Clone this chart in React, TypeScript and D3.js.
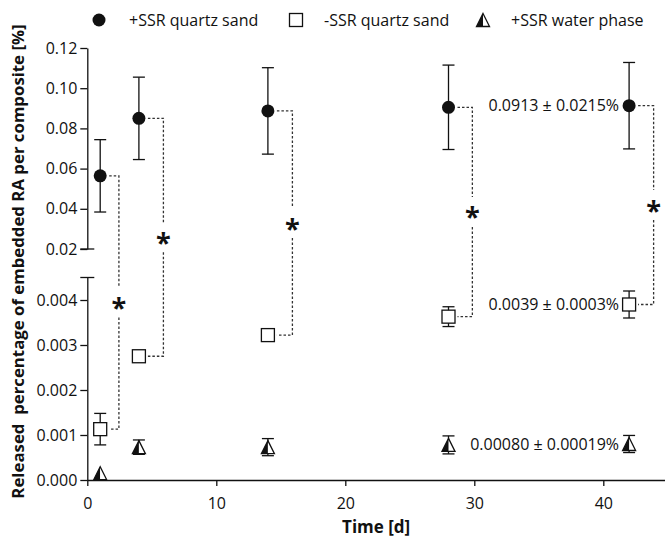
import React, { useEffect, useRef } from 'react';
import * as d3 from 'd3';

// sampling days
const days = [1, 4, 14, 28, 42];

// +SSR quartz sand (upper axis segment)
const sandSSR = [0.0564, 0.085, 0.0887, 0.0905, 0.0913];
const sandSSRErr = [0.018, 0.0205, 0.0215, 0.021, 0.0215];

// -SSR quartz sand (lower axis segment)
const sandNoSSR = [0.00113, 0.00275, 0.00322, 0.00363, 0.0039];
const sandNoSSRErr = [0.00035, 0.0001, 0.0001, 0.00022, 0.0003];

// +SSR water phase (lower axis segment)
const waterSSR = [0.00015, 0.00073, 0.00073, 0.00078, 0.0008];
const waterSSRErr = [0, 0.00016, 0.00019, 0.0002, 0.00019];

// where the significance brackets stand, in days
const bracketDays = [2.45, 5.9, 15.9, 29.85, 43.9];

const legendLabels = ['+SSR quartz sand', '-SSR quartz sand', '+SSR water phase'];
const annotationLabels = ['0.0913 ± 0.0215%', '0.0039 ± 0.0003%', '0.00080 ± 0.00019%'];

const xTicks = [0, 10, 20, 30, 40];
const upperTicks = [0.02, 0.04, 0.06, 0.08, 0.1, 0.12];
const lowerTicks = [0, 0.001, 0.002, 0.003, 0.004];

const W = 665;
const H = 538;
const FONT = '"Open Sans", sans-serif';
const INK = '#111';

const x = d3.scaleLinear().domain([0, 45]).range([87.3, 667.8]);
const yTop = d3.scaleLinear().domain([0.02, 0.12]).range([249, 48]);
const yLow = d3.scaleLinear().domain([0, 0.0045]).range([480, 277.5]);

const R = 6.5; // marker half size

function Triangle({ cx, cy }: { cx: number; cy: number }) {
  const top = cy - R;
  const bot = cy + R;
  return (
    <g>
      <path d={`M${cx},${top}L${cx},${bot}L${cx - R},${bot}Z`} fill={INK} />
      <path d={`M${cx},${top}L${cx + R},${bot}L${cx},${bot}Z`} fill="#fff" />
      <path d={`M${cx},${top}L${cx + R},${bot}L${cx - R},${bot}Z`} fill="none" stroke={INK} strokeWidth={1.3} strokeLinejoin="miter" />
    </g>
  );
}

function ErrorBar({ cx, y1, y2 }: { cx: number; y1: number; y2: number }) {
  const cap = 6;
  return (
    <g stroke={INK} strokeWidth={1.3}>
      <line x1={cx} x2={cx} y1={y1} y2={y2} />
      <line x1={cx - cap} x2={cx + cap} y1={y1} y2={y1} />
      <line x1={cx - cap} x2={cx + cap} y1={y2} y2={y2} />
    </g>
  );
}

export default function App() {
  const xAxisRef = useRef<SVGGElement>(null);
  const yTopRef = useRef<SVGGElement>(null);
  const yLowRef = useRef<SVGGElement>(null);

  useEffect(() => {
    const style = (g: any) => {
      g.selectAll('text').attr('font-family', FONT).attr('font-size', 16).attr('fill', INK);
      g.selectAll('line,path').attr('stroke', INK).attr('stroke-width', 1.3);
    };
    d3.select(xAxisRef.current!)
      .call(d3.axisBottom(x).tickValues(xTicks).tickSize(6).tickSizeOuter(0).tickPadding(12) as any)
      .call(style);
    d3.select(yTopRef.current!)
      .call(d3.axisLeft(yTop).tickValues(upperTicks).tickFormat(d3.format('.2f') as any).tickSize(7).tickSizeOuter(0).tickPadding(3) as any)
      .call(style);
    d3.select(yLowRef.current!)
      .call(d3.axisLeft(yLow).tickValues(lowerTicks).tickFormat(d3.format('.3f') as any).tickSize(7).tickSizeOuter(0).tickPadding(3) as any)
      .call(style);
  }, []);

  const x0 = x(0);
  const last = days.length - 1;

  return (
    <svg width={W} height={H} style={{ position: 'absolute', left: 0, top: 0, background: '#fff' }} fontFamily={FONT}>
      {/* legend */}
      <g fontSize={16} fill={INK}>
        <circle cx={99} cy={20} r={R} fill={INK} />
        <text x={129} y={20} dy="0.35em">{legendLabels[0]}</text>
        <rect x={296 - R} y={20 - R} width={2 * R} height={2 * R} fill="#fff" stroke={INK} strokeWidth={1.3} />
        <text x={324} y={20} dy="0.35em">{legendLabels[1]}</text>
        <Triangle cx={483} cy={20} />
        <text x={511} y={20} dy="0.35em">{legendLabels[2]}</text>
      </g>

      {/* axes */}
      <g ref={xAxisRef} transform={`translate(0,${yLow(0)})`} />
      <g ref={yTopRef} transform={`translate(${x0},0)`} />
      <g ref={yLowRef} transform={`translate(${x0},0)`} />
      {/* axis break caps */}
      <g stroke={INK} strokeWidth={1.3}>
        <line x1={x0 - 7} x2={x0 + 7} y1={yTop(0.02)} y2={yTop(0.02)} />
        <line x1={x0 - 7} x2={x0 + 7} y1={yLow(0.0045)} y2={yLow(0.0045)} />
      </g>

      {/* axis titles */}
      <text x={(x0 + W) / 2} y={533} textAnchor="middle" fontWeight="bold" fontSize={17} fill={INK}>Time [d]</text>
      <text
        transform={`translate(18,${(493 + 30) / 2}) rotate(-90)`}
        dy="0.35em"
        textAnchor="middle"
        fontWeight="bold"
        fontSize={16.8}
        fill={INK}
        style={{ whiteSpace: 'pre' }}
      >
        {'Released  percentage of embedded RA per composite [%]'}
      </text>

      {/* significance brackets */}
      <g stroke="#333" strokeWidth={1.3} strokeDasharray="2.5,2" fill="none">
        {days.map((d, i) => {
          const cx = x(d);
          const bx = x(bracketDays[i]);
          const ya = yTop(sandSSR[i]);
          const yb = yLow(sandNoSSR[i]);
          const mid = (ya + yb) / 2;
          return (
            <g key={d}>
              <path d={`M${cx + 9},${ya}H${bx}V${mid - 15}`} />
              <path d={`M${bx},${mid + 15}V${yb}H${cx + 9}`} />
            </g>
          );
        })}
      </g>
      <g fontWeight="bold" fontSize={27} fill={INK} textAnchor="middle">
        {days.map((d, i) => {
          const mid = (yTop(sandSSR[i]) + yLow(sandNoSSR[i])) / 2;
          return (
            <text key={d} x={x(bracketDays[i])} y={mid + 14.5}>*</text>
          );
        })}
      </g>

      {/* error bars */}
      {days.map((d, i) => (
        <g key={`e${d}`}>
          <ErrorBar cx={x(d)} y1={yTop(sandSSR[i] + sandSSRErr[i])} y2={yTop(sandSSR[i] - sandSSRErr[i])} />
          <ErrorBar cx={x(d)} y1={yLow(sandNoSSR[i] + sandNoSSRErr[i])} y2={yLow(sandNoSSR[i] - sandNoSSRErr[i])} />
          {waterSSRErr[i] > 0 && (
            <ErrorBar cx={x(d)} y1={yLow(waterSSR[i] + waterSSRErr[i])} y2={yLow(waterSSR[i] - waterSSRErr[i])} />
          )}
        </g>
      ))}

      {/* markers */}
      {days.map((d, i) => (
        <g key={`m${d}`}>
          <circle cx={x(d)} cy={yTop(sandSSR[i])} r={R} fill={INK} />
          <rect x={x(d) - R} y={yLow(sandNoSSR[i]) - R} width={2 * R} height={2 * R} fill="#fff" stroke={INK} strokeWidth={1.3} />
          <Triangle cx={x(d)} cy={yLow(waterSSR[i])} />
        </g>
      ))}

      {/* value annotations at the last day */}
      <g fontSize={16} fill={INK} textAnchor="end">
        <text x={x(days[last]) - 10} y={yTop(sandSSR[last])} dy="0.35em">{annotationLabels[0]}</text>
        <text x={x(days[last]) - 10} y={yLow(sandNoSSR[last])} dy="0.35em">{annotationLabels[1]}</text>
        <text x={x(days[last]) - 10} y={yLow(waterSSR[last])} dy="0.35em">{annotationLabels[2]}</text>
      </g>
    </svg>
  );
}
